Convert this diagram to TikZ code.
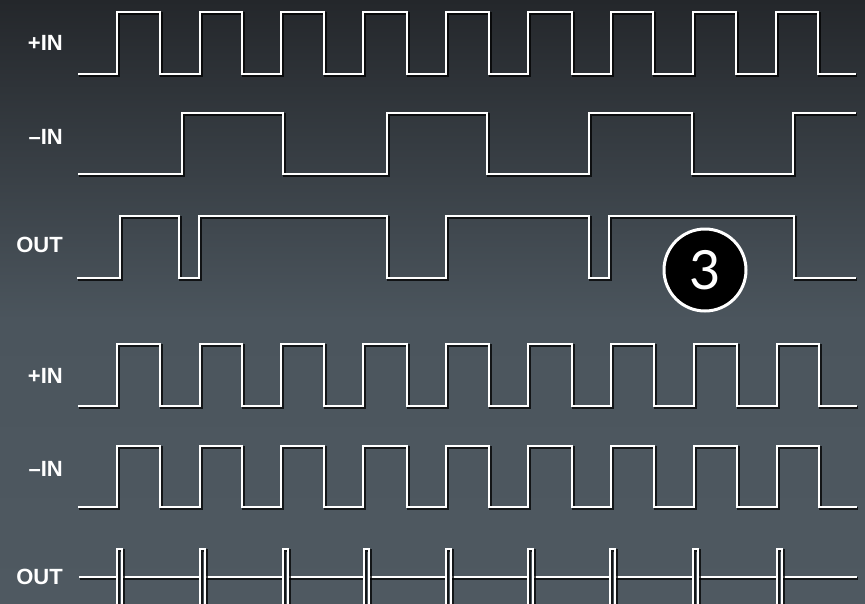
\documentclass[tikz,border=0pt]{standalone}
\usepackage{fontspec}
\setmainfont{Liberation Sans}
\newfontfamily\numfont{Lato}
\definecolor{bgtop}{HTML}{24272B}
\definecolor{bgmid}{HTML}{4B555D}
\definecolor{bgbot}{HTML}{4F5961}
\begin{document}
\begin{tikzpicture}[x=1pt,y=-1pt,
  waveline/.style={draw=white, line width=2.9pt, line join=miter, line cap=butt},
  shadowline/.style={draw=black, opacity=0.75, line width=3pt, line join=miter, line cap=butt},
  lbl/.style={text=white, font=\bfseries\fontsize{22}{22}\selectfont, anchor=base east, inner sep=0pt},
  badge/.style={circle, fill=black, draw=white, line width=3pt, minimum size=82pt, inner sep=0pt, text=white, font=\numfont\fontsize{54}{54}\selectfont}]
\useasboundingbox (0,0) rectangle (865,603);
% background
\shade[top color=bgtop, bottom color=bgmid] (0,0) rectangle (865,320);
\shade[top color=bgmid, bottom color=bgbot] (0,320) rectangle (865,603.5);
\clip (0,0) rectangle (865,603);
% helper macro
\newcommand\wavedraw[1]{%
  \draw[shadowline, shift={(1.2,1.2)}] #1;
  \draw[waveline] #1;}
% ---- top +IN
\wavedraw{(78,74) \foreach \r/\f in {117/160,200/242,281/324,363/407,446/489,528/572,611/653,693/736,776/818}{ -- (\r,74) -- (\r,12) -- (\f,12) -- (\f,74)} -- (856,74)}
% ---- top -IN
\wavedraw{(78,174) -- (182,174) -- (182,113) -- (283,113) -- (283,174) -- (387,174) -- (387,113) -- (487,113) -- (487,174) -- (589,174) -- (589,113) -- (692,113) -- (692,174) -- (793,174) -- (793,113) -- (856,113)}
% ---- top OUT
\wavedraw{(77,278) -- (120,278) -- (120,216) -- (179,216) -- (179,278) -- (199,278) -- (199,216) -- (387,216) -- (387,278) -- (446,278) -- (446,216) -- (589,216) -- (589,278) -- (609,278) -- (609,216) -- (794,216) -- (794,278) -- (856,278)}
% ---- bottom +IN
\wavedraw{(78,406) \foreach \r/\f in {117/160,200/242,281/324,363/407,446/489,528/572,611/654,694/737,777/819}{ -- (\r,406) -- (\r,344) -- (\f,344) -- (\f,406)} -- (857,406)}
% ---- bottom -IN
\wavedraw{(78,507) \foreach \r/\f in {117/160,200/242,281/324,363/407,446/489,528/572,611/654,694/737,777/819}{ -- (\r,507) -- (\r,446) -- (\f,446) -- (\f,507)} -- (857,507)}
% ---- bottom OUT
\wavedraw{(79,577) -- (117,577) (122,577) -- (200,577) (205,577) -- (283,577) (288,577) -- (364,577) (369,577) -- (446,577) (451,577) -- (528,577) (533,577) -- (610,577) (615,577) -- (693,577) (698,577) -- (777,577) (782,577) -- (857,577)}
\foreach \s in {117,200,283,364,446,528,610,693,777}{
  \wavedraw{(\s,620) -- (\s,549) -- (\s+5,549) -- (\s+5,620)}
}
% labels
\node[lbl] (pin1) at (63,50) {+IN};
\node[lbl] (nin1) at (63,144) {–IN};
\node[lbl] (out1) at (63,252) {OUT};
\node[lbl] (pin2) at (63,383) {+IN};
\node[lbl] (nin2) at (63,476) {–IN};
\node[lbl] (out2) at (63,584) {OUT};
% badge
\node[badge] (three) at (705,270) {3};
\end{tikzpicture}
\end{document}
